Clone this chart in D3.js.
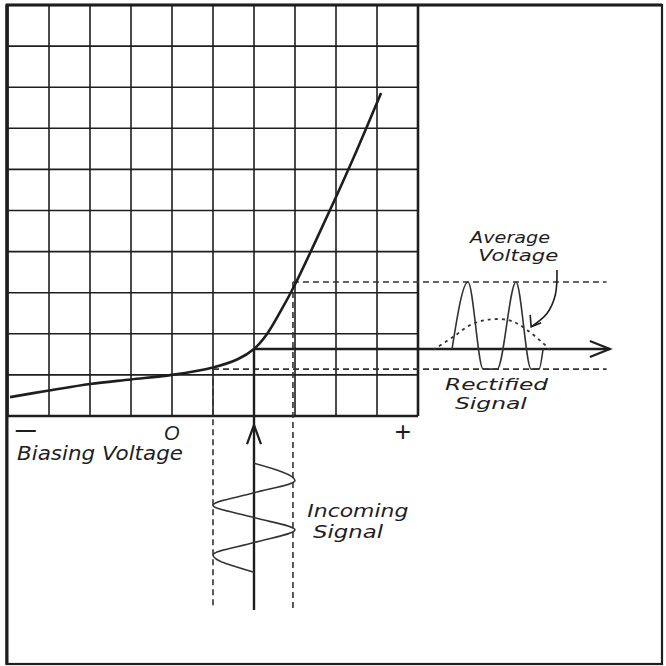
<!DOCTYPE html>
<html><head><meta charset="utf-8">
<script src="https://cdn.jsdelivr.net/npm/d3@7"></script>
<style>html,body{margin:0;padding:0;background:#fff}svg{display:block}</style>
</head><body>
<script>
// ---- data (grid units: 10 x 10 grid) ----
const gridTicks = [0,1,2,3,4,5,6,7,8,9,10];
const biasTicks = [0.42, 3.98, 9.62];
const biasTickLabels = ["\u2014", "O", "+"];
// characteristic curve
const curveX = [0.05, 1, 2, 3, 4, 5, 5.6, 6, 6.3, 6.65, 7, 7.5, 8, 8.5, 9.1];
const curveY = [0.46, 0.62, 0.78, 0.89, 1.0, 1.18, 1.38, 1.63, 1.97, 2.55, 3.2, 4.25, 5.33, 6.45, 7.86];
// operating point
const opX = 6, opY = 1.63;
// incoming signal (vertical, below)
const inX = [6, 7, 6, 5, 6, 7, 6, 5, 6];
const inY = [-1.15, -1.57, -1.87, -2.17, -2.47, -2.77, -3.08, -3.38, -3.80];
// rectified signal (right)
const rectX = [10.83, 11.22, 11.59, 11.93, 12.39, 12.76, 12.95, 13.05];
const rectY = [1.63, 3.26, 1.14, 1.14, 3.26, 1.14, 1.14, 1.63];
// average voltage (dotted)
const avgX = [10.37, 10.85, 11.27, 11.68, 12.17, 12.49, 13.02, 13.22];
const avgY = [1.61, 1.92, 2.21, 2.34, 2.34, 2.21, 1.80, 1.61];
// projection levels
const swingLo = 5, swingHi = 6.95, levelLo = 1.14, levelHi = 3.26;
const projEndX = 14.6, projEndY = -4.67;
const axisEndX = 14.68, axisEndY = -4.72, inArrowY = -0.22;
// annotation arrow
const noteX = [13.39, 13.35, 13.15, 12.76];
const noteY = [3.55, 2.95, 2.5, 2.17];

const W = 666, H = 666;
const x = d3.scaleLinear().domain([0,10]).range([8,418]);
const y = d3.scaleLinear().domain([0,10]).range([416,5]);
const ink = "#1e1e1e";
const font = "DejaVu Sans, Liberation Sans, sans-serif";

const svg = d3.select("body").append("svg").attr("width",W).attr("height",H);
svg.append("rect").attr("width",W).attr("height",H).attr("fill","#fff");

// grid
const g = svg.append("g");
g.selectAll(".vg").data(gridTicks).join("line")
  .attr("x1",d=>x(d)).attr("x2",d=>x(d)).attr("y1",y(10)).attr("y2",y(0))
  .attr("stroke",ink).attr("stroke-width",d=>d===10?2.6:1.6);
g.selectAll(".hg").data(gridTicks).join("line")
  .attr("y1",d=>y(d)).attr("y2",d=>y(d)).attr("x1",x(0)).attr("x2",x(10))
  .attr("stroke",ink).attr("stroke-width",d=>d===0?2.6:1.6);

// outer frame
svg.append("rect").attr("x",6.5).attr("y",5).attr("width",655.5).attr("height",659)
  .attr("fill","none").attr("stroke",ink).attr("stroke-width",2.2);
svg.append("line").attr("x1",6).attr("x2",662).attr("y1",5).attr("y2",5).attr("stroke",ink).attr("stroke-width",3.2);
svg.append("line").attr("x1",7).attr("x2",7).attr("y1",5).attr("y2",664).attr("stroke",ink).attr("stroke-width",3);

// bias axis labels via d3 axis
const ax = svg.append("g").attr("transform",`translate(0,${y(0)})`)
  .call(d3.axisBottom(x).tickValues(biasTicks).tickFormat((d,i)=>biasTickLabels[i]).tickSize(0).tickPadding(0));
ax.select(".domain").remove();
ax.selectAll("text").attr("fill",ink).attr("font-family","Liberation Sans, Arial, sans-serif")
  .attr("font-style",(d,i)=>i===1?"italic":"normal")
  .attr("font-size",(d,i)=>i===2?28:20)
  .attr("dy",(d,i)=>i===0?"1.0em":(i===1?"1.2em":"0.9em"))
  .attr("font-weight",(d,i)=>i===0?"bold":"normal");

// dashed projection lines
const dash = svg.append("g").attr("stroke","#333").attr("stroke-width",1.6).attr("stroke-dasharray","6,4").attr("fill","none");
dash.append("line").attr("x1",x(swingLo)).attr("x2",x(swingLo)).attr("y1",y(levelLo)).attr("y2",y(projEndY));
dash.append("line").attr("x1",x(swingHi)).attr("x2",x(swingHi)).attr("y1",y(levelHi)).attr("y2",y(projEndY));
dash.append("line").attr("x1",x(swingHi)).attr("x2",x(projEndX)).attr("y1",y(levelHi)).attr("y2",y(levelHi));
dash.append("line").attr("x1",x(swingLo)).attr("x2",x(projEndX)).attr("y1",y(levelLo)).attr("y2",y(levelLo));

// characteristic curve
const pts = curveX.map((d,i)=>[d,curveY[i]]);
svg.append("path").datum(pts)
  .attr("d",d3.line().x(d=>x(d[0])).y(d=>y(d[1])).curve(d3.curveCatmullRom.alpha(0.5)))
  .attr("fill","none").attr("stroke",ink).attr("stroke-width",2.6);

// signal axes
svg.append("line").attr("x1",x(opX)).attr("x2",x(axisEndX)).attr("y1",y(opY)).attr("y2",y(opY))
  .attr("stroke",ink).attr("stroke-width",2.4);
svg.append("path").attr("d",`M${x(axisEndX)-20},${y(opY)-8}L${x(axisEndX)},${y(opY)}L${x(axisEndX)-20},${y(opY)+8}`)
  .attr("fill","none").attr("stroke",ink).attr("stroke-width",2.2);
svg.append("line").attr("x1",x(opX)).attr("x2",x(opX)).attr("y1",y(opY)).attr("y2",y(axisEndY))
  .attr("stroke",ink).attr("stroke-width",2.4);
svg.append("path").attr("d",`M${x(opX)-7},${y(inArrowY)+19}L${x(opX)},${y(inArrowY)}L${x(opX)+7},${y(inArrowY)+19}`)
  .attr("fill","none").attr("stroke",ink).attr("stroke-width",2.2);

// incoming signal
svg.append("path").datum(inX.map((d,i)=>[d,inY[i]]))
  .attr("d",d3.line().x(d=>x(d[0])).y(d=>y(d[1])).curve(d3.curveMonotoneY))
  .attr("fill","none").attr("stroke","#333").attr("stroke-width",1.6);

// rectified signal
svg.append("path").datum(rectX.map((d,i)=>[d,rectY[i]]))
  .attr("d",d3.line().x(d=>x(d[0])).y(d=>y(d[1])).curve(d3.curveMonotoneX))
  .attr("fill","none").attr("stroke","#333").attr("stroke-width",1.6);

// average voltage dotted
svg.append("path").datum(avgX.map((d,i)=>[d,avgY[i]]))
  .attr("d",d3.line().x(d=>x(d[0])).y(d=>y(d[1])).curve(d3.curveCatmullRom.alpha(0.5)))
  .attr("fill","none").attr("stroke","#333").attr("stroke-width",1.8).attr("stroke-dasharray","3,4");

// annotation arrow
const np = noteX.map((d,i)=>[d,noteY[i]]);
svg.append("path").datum(np)
  .attr("d",d3.line().x(d=>x(d[0])).y(d=>y(d[1])).curve(d3.curveCatmullRom.alpha(0.5)))
  .attr("fill","none").attr("stroke",ink).attr("stroke-width",1.6);
const tx = x(noteX[3]), ty = y(noteY[3]);
svg.append("path").attr("d",`M${tx-1},${ty-12}L${tx},${ty}L${tx+10},${ty-4}`)
  .attr("fill","none").attr("stroke",ink).attr("stroke-width",1.6);

// labels
const labels = [
  {t:"Biasing Voltage", gx:0.22, gy:-1.07, w:166, s:20},
  {t:"Average", gx:11.27, gy:4.21, w:80, s:15},
  {t:"Voltage", gx:11.47, gy:3.76, w:80, s:15},
  {t:"Rectified", gx:10.66, gy:0.63, w:103, s:16},
  {t:"Signal", gx:10.9, gy:0.17, w:72, s:16},
  {t:"Incoming", gx:7.3, gy:-2.46, w:101, s:17.5},
  {t:"Signal", gx:7.44, gy:-2.97, w:70, s:17.5}
];
svg.append("g").selectAll("text").data(labels).join("text")
  .attr("x",d=>x(d.gx)).attr("y",d=>y(d.gy))
  .attr("textLength",d=>d.w).attr("lengthAdjust","spacingAndGlyphs")
  .attr("font-family",font).attr("font-style","italic")
  .attr("font-size",d=>d.s).attr("fill",ink).text(d=>d.t);
</script>
</body></html>
